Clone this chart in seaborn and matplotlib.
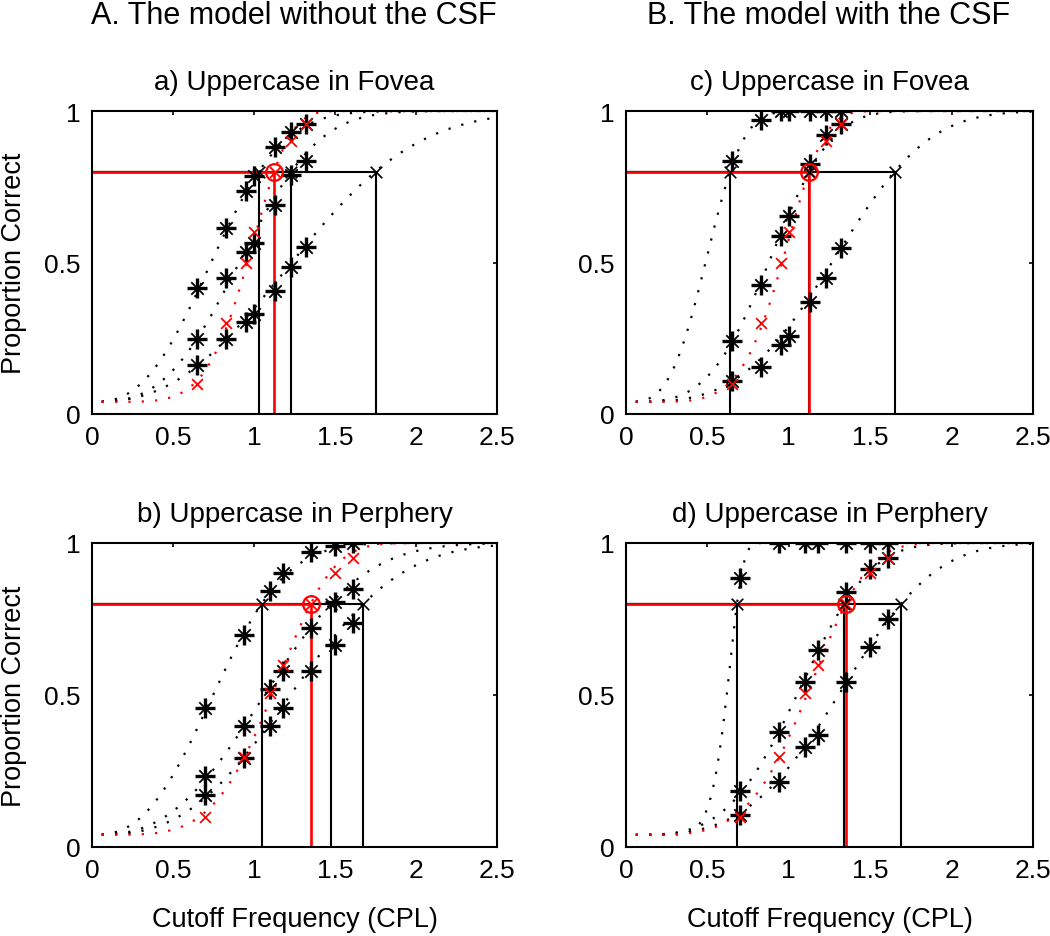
import numpy as np
import matplotlib
matplotlib.use("Agg")
import matplotlib.pyplot as plt
import seaborn as sns

sns.set_style("white")
plt.rcParams['font.family'] = ['Liberation Sans', 'DejaVu Sans']
plt.rcParams['text.color'] = 'k'
plt.rcParams['xtick.color'] = 'k'
plt.rcParams['ytick.color'] = 'k'

# stimulus cutoff frequencies (CPL)
fovea_x = [0.65, 0.83, 0.95, 1.0, 1.13, 1.23, 1.32]
periph_x = [0.70, 0.94, 1.10, 1.18, 1.35, 1.50, 1.61]

# human data (red x) and its fitted threshold / slope
human_fovea = [0.10, 0.30, 0.50, 0.60, 0.80, 0.90, 0.957]
human_periph = [0.10, 0.295, 0.505, 0.598, 0.80, 0.90, 0.95]
human_fovea_fit = (1.125, 5.5)
human_periph_fit = (1.35, 4.5)

# model predictions (black asterisks), three model observers per panel
a_model = [[0.415, 0.613, 0.735, 0.784, 0.88, 0.93, 0.957],
           [0.248, 0.449, 0.534, 0.564, 0.691, 0.789, 0.836],
           [0.163, 0.248, 0.305, 0.33, 0.405, 0.486, 0.55]]
a_thr = [1.03, 1.23, 1.75]
a_slope = [2.6, 2.9, 2.5]

b_model = [[0.456, 0.698, 0.841, 0.90, 0.971, 0.99, 1.0],
           [0.235, 0.399, 0.52, 0.578, 0.72, 0.805, 0.849],
           [0.171, 0.293, 0.399, 0.456, 0.578, 0.664, 0.736]]
b_thr = [1.047, 1.473, 1.675]
b_slope = [2.6, 2.7, 2.8]

c_model = [[0.836, 0.971, 1.0, 1.0, 1.0, 1.0, 1.0],
           [0.242, 0.427, 0.586, 0.652, 0.825, 0.921, 0.957],
           [0.11, 0.154, 0.228, 0.256, 0.369, 0.449, 0.548]]
c_thr = [0.64, 1.127, 1.65]
c_slope = [3.25, 3.5, 3.3]

d_model = [[0.885, 1.0, 1.0, 1.0, 1.0, 1.0, 1.0],
           [0.185, 0.379, 0.542, 0.649, 0.838, 0.914, 0.95],
           [0.105, 0.213, 0.328, 0.369, 0.542, 0.657, 0.75]]
d_thr = [0.682, 1.34, 1.69]
d_slope = [9.0, 3.6, 3.4]

guess = 0.04
criterion = 0.8


def weibull(x, thr, slope):
    # psychometric function passing through `criterion` at thr
    k = -np.log(1 - (criterion - guess) / (1 - guess))
    a = thr / k ** (1 / slope)
    return guess + (1 - guess) * (1 - np.exp(-(x / a) ** slope))


xs = np.linspace(0.06, 2.5, 200)

fig = plt.figure(figsize=(10.5, 9.37), dpi=100)
W, H = 1050, 937
panels = [
    ("a) Uppercase in Fovea", fovea_x, a_model, a_thr, a_slope, human_fovea, human_fovea_fit, (92, 112, 405, 303)),
    ("c) Uppercase in Fovea", fovea_x, c_model, c_thr, c_slope, human_fovea, human_fovea_fit, (626, 112, 407, 303)),
    ("b) Uppercase in Perphery", periph_x, b_model, b_thr, b_slope, human_periph, human_periph_fit, (92, 544, 405, 304)),
    ("d) Uppercase in Perphery", periph_x, d_model, d_thr, d_slope, human_periph, human_periph_fit, (626, 544, 407, 304)),
]

dots = (0, (1, 5))
for title, sx, model, thr, slope, human, hfit, (l, t, w, h) in panels:
    ax = fig.add_axes([l / W, 1 - (t + h) / H, w / W, h / H])
    # fitted curves
    for th, sl in zip(thr, slope):
        sns.lineplot(x=xs, y=weibull(xs, th, sl), ax=ax, color="k", linestyle=dots, lw=1.6)
    sns.lineplot(x=xs, y=weibull(xs, *hfit), ax=ax, color="red", linestyle=dots, lw=1.6)
    # threshold lines
    for th in thr:
        ax.plot([0, th], [criterion, criterion], color="k", lw=1.5)
        ax.plot([th, th], [0, criterion], color="k", lw=1.5)
    ax.plot([0, hfit[0]], [criterion, criterion], color="red", lw=1.9)
    ax.plot([hfit[0], hfit[0]], [0, criterion], color="red", lw=1.9)
    # data points
    for ys in model:
        sns.scatterplot(x=sx, y=ys, ax=ax, marker="+", s=220, color="k", linewidth=2.4, zorder=4)
        sns.scatterplot(x=sx, y=ys, ax=ax, marker="x", s=80, color="k", linewidth=1.3, zorder=4)
    sns.scatterplot(x=sx, y=human, ax=ax, marker="x", s=60, color="red", linewidth=1.3, zorder=5)
    sns.scatterplot(x=thr, y=[criterion] * len(thr), ax=ax, marker="x", s=70, color="k", linewidth=1.2, zorder=5)
    ax.plot([hfit[0]], [criterion], marker="o", ms=12, mfc="none", mec="red", mew=1.6, zorder=6)

    ax.set_xlim(0, 2.5)
    ax.set_ylim(0, 1)
    ax.set_xticks([0, 0.5, 1, 1.5, 2, 2.5])
    ax.set_xticklabels(["0", "0.5", "1", "1.5", "2", "2.5"])
    ax.set_yticks([0, 0.5, 1])
    ax.set_yticklabels(["0", "0.5", "1"])
    ax.tick_params(direction="in", length=3, width=1.2, top=True, right=True,
                   labelsize=19, pad=8, colors="k")
    for s in ax.spines.values():
        s.set_linewidth(1.5)
        s.set_color("k")
    ax.set_xlabel("")
    ax.set_ylabel("")
    fig.text((l + w / 2) / W, 1 - (t - 22) / H, title, ha="center", va="baseline", fontsize=20, color="k")

fig.text(294 / W, 1 - 23.5 / H, "A. The model without the CSF", ha="center", va="baseline", fontsize=22, color="k")
fig.text(829 / W, 1 - 23.5 / H, "B. The model with the CSF", ha="center", va="baseline", fontsize=22, color="k")
for yc in (263.5, 696):
    fig.text(14 / W, 1 - yc / H, "Proportion Correct", rotation=90, ha="center", va="center", fontsize=19.5, color="k")
for xc in (294.5, 829.5):
    fig.text(xc / W, 1 - 927 / H, "Cutoff Frequency (CPL)", ha="center", va="baseline", fontsize=19.5, color="k")

fig.savefig("out.png", dpi=100)
